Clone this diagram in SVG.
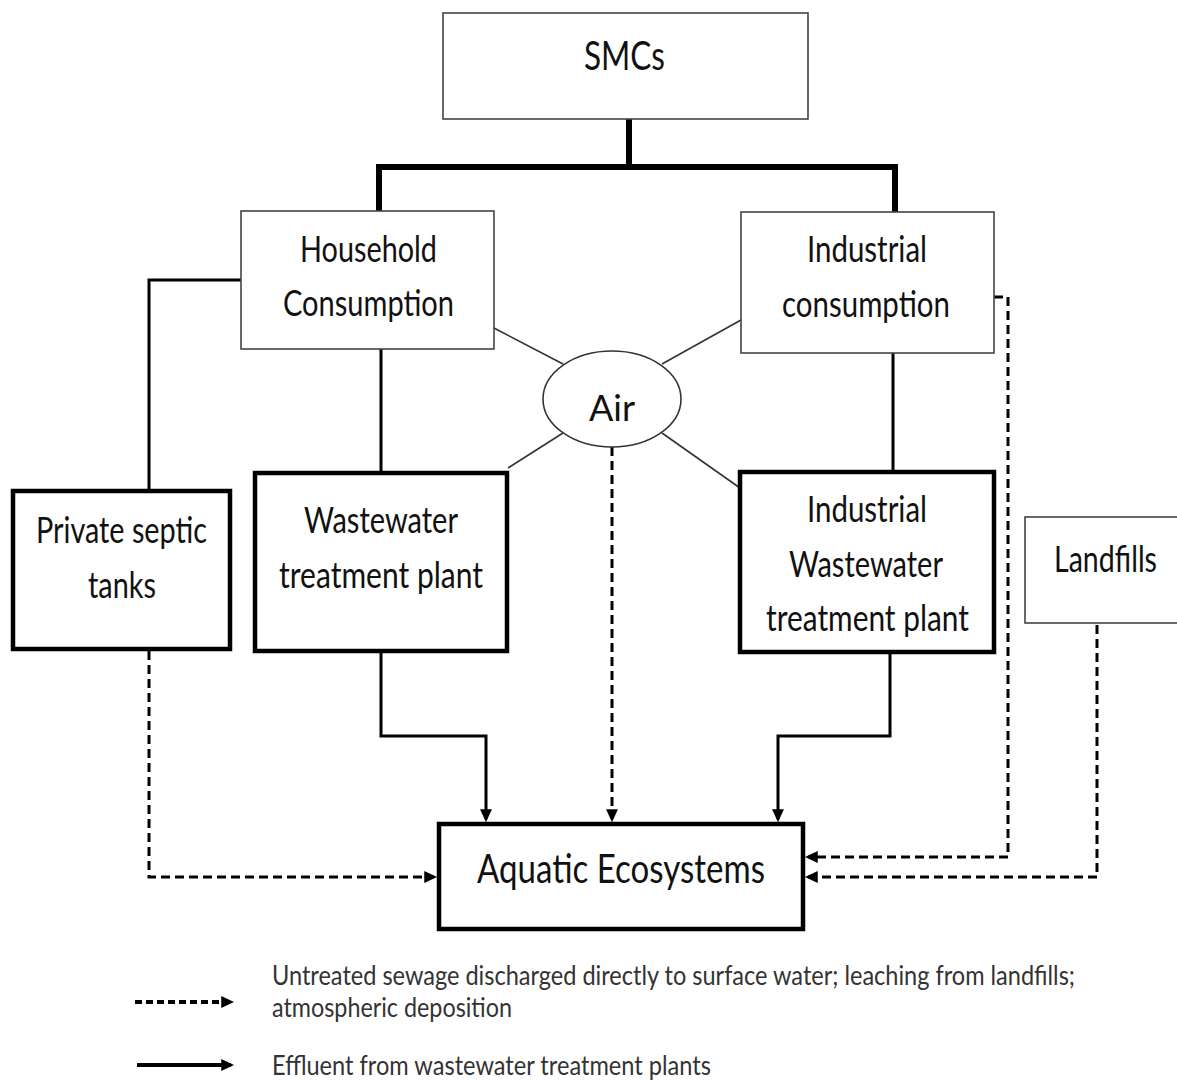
<svg xmlns="http://www.w3.org/2000/svg" width="1177" height="1083" viewBox="0 0 1177 1083">
<defs>
<marker id="ah" viewBox="0 0 12 12" refX="9" refY="6" markerWidth="13" markerHeight="13" markerUnits="userSpaceOnUse" orient="auto">
<path d="M0,0.5 L12,6 L0,11.5 z" fill="#000"/>
</marker>
<style>
.thin{fill:#fff;stroke:#444;stroke-width:1.6}
.thick{fill:#fff;stroke:#000;stroke-width:4.5}
.t{font-family:Lato,"Liberation Sans",sans-serif;fill:#111;font-size:37px}
.big{font-size:41px}
.leg{font-size:26px;fill:#333}
.solid{fill:none;stroke:#000;stroke-width:3}
.dash{fill:none;stroke:#000;stroke-width:3;stroke-dasharray:9 5}
.airl{fill:none;stroke:#333;stroke-width:1.6}
</style>
</defs>
<rect width="1177" height="1083" fill="#fff"/>

<g id="connectors">
<path d="M379,212 V167 H895 V212 M629,119 V167" fill="none" stroke="#000" stroke-width="6"/>
<path class="solid" d="M241,280 H149 V489"/>
<path class="solid" d="M381,349 V471"/>
<path class="solid" d="M893,353 V470"/>
<path class="airl" d="M494,328 L563,364"/>
<path class="airl" d="M741,320 L662,364"/>
<path class="airl" d="M563,433 L508,468"/>
<path class="airl" d="M662,433 L740,488"/>
<path class="solid" d="M381,651 V736 H486 V819" marker-end="url(#ah)"/>
<path class="solid" d="M890,652 V736 H778 V819" marker-end="url(#ah)"/>
<path class="dash" d="M612,447 V819" marker-end="url(#ah)"/>
<path class="dash" d="M149,651 V877 H434" stroke-width="3.5" marker-end="url(#ah)"/>
<path class="dash" d="M994,297 H1008 V857 H808" marker-end="url(#ah)"/>
<path class="dash" d="M1097,625 V877 H808" marker-end="url(#ah)"/>
</g>

<g id="smcs">
<rect class="thin" x="443" y="13" width="365" height="106"/>
<text class="t big" x="584" y="70" textLength="81" lengthAdjust="spacingAndGlyphs">SMCs</text>
</g>

<g id="household">
<rect class="thin" x="241" y="211" width="253" height="138"/>
<text class="t" x="300" y="262" textLength="137" lengthAdjust="spacingAndGlyphs">Household</text>
<text class="t" x="283" y="316" textLength="171" lengthAdjust="spacingAndGlyphs">Consumption</text>
</g>

<g id="industrial">
<rect class="thin" x="741" y="212" width="253" height="141"/>
<text class="t" x="807" y="262" textLength="120" lengthAdjust="spacingAndGlyphs">Industrial</text>
<text class="t" x="782" y="317" textLength="168" lengthAdjust="spacingAndGlyphs">consumption</text>
</g>

<g id="air">
<ellipse cx="612" cy="399" rx="69" ry="48" fill="#fff" stroke="#333" stroke-width="1.6"/>
<text class="t" x="589" y="421" font-size="39" textLength="46" lengthAdjust="spacingAndGlyphs">Air</text>
</g>

<g id="septic">
<rect class="thick" x="13" y="491" width="217" height="158"/>
<text class="t" x="36" y="543" textLength="171" lengthAdjust="spacingAndGlyphs">Private septic</text>
<text class="t" x="88" y="598" textLength="68" lengthAdjust="spacingAndGlyphs">tanks</text>
</g>

<g id="wwtp">
<rect class="thick" x="255" y="473" width="252" height="178"/>
<text class="t" x="304" y="533" textLength="154" lengthAdjust="spacingAndGlyphs">Wastewater</text>
<text class="t" x="279" y="588" textLength="204" lengthAdjust="spacingAndGlyphs">treatment plant</text>
</g>

<g id="iwwtp">
<rect class="thick" x="740" y="472" width="254" height="180"/>
<text class="t" x="807" y="522" textLength="120" lengthAdjust="spacingAndGlyphs">Industrial</text>
<text class="t" x="789" y="577" textLength="154" lengthAdjust="spacingAndGlyphs">Wastewater</text>
<text class="t" x="766" y="631" textLength="203" lengthAdjust="spacingAndGlyphs">treatment plant</text>
</g>

<g id="landfills">
<rect class="thin" x="1025" y="517" width="170" height="106"/>
<text class="t" x="1054" y="572" font-size="38" textLength="103" lengthAdjust="spacingAndGlyphs">Landfills</text>
</g>

<g id="aquatic">
<rect class="thick" x="439" y="824" width="364" height="105"/>
<text class="t big" x="477" y="883" textLength="288" lengthAdjust="spacingAndGlyphs">Aquatic Ecosystems</text>
</g>

<g id="legend">
<path d="M135,1002 H231" fill="none" stroke="#000" stroke-width="4" stroke-dasharray="7 4" marker-end="url(#ah)"/>
<path d="M137,1065 H231" fill="none" stroke="#000" stroke-width="4" marker-end="url(#ah)"/>
<text class="t leg" x="272" y="985" textLength="803" lengthAdjust="spacingAndGlyphs">Untreated sewage discharged directly to surface water; leaching from landfills;</text>
<text class="t leg" x="272" y="1017" textLength="240" lengthAdjust="spacingAndGlyphs">atmospheric deposition</text>
<text class="t leg" x="272" y="1075" textLength="439" lengthAdjust="spacingAndGlyphs">Effluent from wastewater treatment plants</text>
</g>
</svg>
